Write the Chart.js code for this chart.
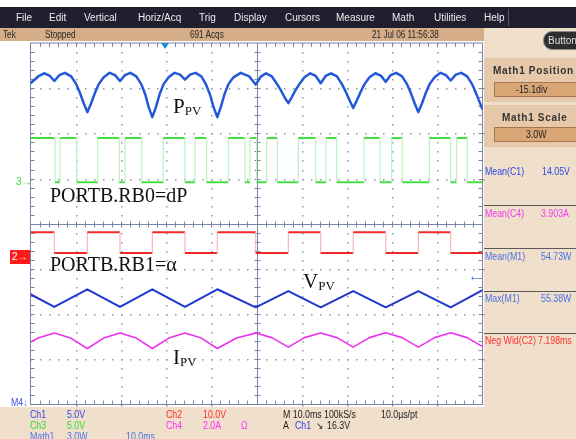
<!DOCTYPE html>
<html>
<head>
<meta charset="utf-8">
<script src="https://cdn.jsdelivr.net/npm/chart.js@4.4.0/dist/chart.umd.min.js"></script>
<style>
html, body { margin: 0; padding: 0; background: #fff; }
#scope { position: relative; width: 576px; height: 439px; overflow: hidden; background: #fff;
         font-family: "Liberation Sans", Arial, sans-serif; }
#scope div { position: absolute; white-space: nowrap; line-height: 1; }
#scope canvas { position: absolute; left: 0; top: 0; }
.t { font-size: 10px; }
.n { transform: scaleX(.88); transform-origin: 0 0; }
.menu-item { color: #ececec; top: 13px; }
.stat { color: #262626; top: 30px; transform: scaleX(.82); transform-origin: 0 0; }
.title { font-weight: bold; font-size: 10px; color: #333; letter-spacing: .7px; }
.btn { background: #d9a676; border: 1px solid #a87448; box-sizing: border-box; }
.sep { left: 484px; width: 92px; height: 1px; background: #5a5a5a; }
.ann { font-family: "Liberation Serif", "Times New Roman", serif; color: #111; }
.ann sub { font-size: 13px; vertical-align: -2px; line-height: 1; }
</style>
</head>
<body>
<div id="scope">
  <!-- backgrounds -->
  <div style="left:0;top:7px;width:576px;height:21px;background:#1f1f30"></div>
  <div style="left:0;top:28px;width:484px;height:13px;background:#d5ad88"></div>
  <div style="left:484px;top:28px;width:92px;height:411px;background:#efdfcb"></div>
  <div style="left:0;top:407px;width:484px;height:32px;background:#efdfcb"></div>
  <div style="left:484px;top:58px;width:92px;height:44px;background:#e5c9aa"></div>
  <div style="left:484px;top:105px;width:92px;height:42px;background:#e5c9aa"></div>

  <canvas id="scopeChart" width="576" height="439"></canvas>

  <!-- menu bar -->
  <div class="t menu-item" style="left:16px">File</div>
  <div class="t menu-item" style="left:49px">Edit</div>
  <div class="t menu-item" style="left:84px">Vertical</div>
  <div class="t menu-item" style="left:138px">Horiz/Acq</div>
  <div class="t menu-item" style="left:199px">Trig</div>
  <div class="t menu-item" style="left:234px">Display</div>
  <div class="t menu-item" style="left:285px">Cursors</div>
  <div class="t menu-item" style="left:336px">Measure</div>
  <div class="t menu-item" style="left:392px">Math</div>
  <div class="t menu-item" style="left:434px">Utilities</div>
  <div class="t menu-item" style="left:484px">Help</div>
  <div style="left:508px;top:9px;width:1px;height:17px;background:#55556a"></div>

  <!-- status bar -->
  <div class="t stat" style="left:3px">Tek</div>
  <div class="t stat" style="left:45px">Stopped</div>
  <div class="t stat" style="left:190px">691 Acqs</div>
  <div class="t stat" style="left:372px">21 Jul 06 11:56:38</div>
  <div style="left:543px;top:31px;width:44px;height:19px;border-radius:9px;background:#2e2e2e;border:1px solid #8a8a8a;box-sizing:border-box"></div>
  <div class="t" style="left:548px;top:36px;color:#dedede">Button</div>

  <!-- right panel -->
  <div class="title" style="left:493px;top:66px">Math1 Position</div>
  <div class="btn" style="left:494px;top:82px;width:84px;height:15px"></div>
  <div class="t n" style="left:516px;top:85px;color:#222">-15.1div</div>
  <div class="title" style="left:502px;top:113px">Math1 Scale</div>
  <div class="btn" style="left:494px;top:127px;width:84px;height:15px"></div>
  <div class="t n" style="left:526px;top:130px;color:#222">3.0W</div>

  <div class="t n" style="left:485px;top:167px;color:#2b47e6">Mean(C1)</div>
  <div class="t n" style="left:542px;top:167px;color:#2b47e6">14.05V</div>
  <div class="sep" style="top:205px"></div>
  <div class="t n" style="left:485px;top:209px;color:#f23cf2">Mean(C4)</div>
  <div class="t n" style="left:541px;top:209px;color:#f23cf2">3.903A</div>
  <div class="sep" style="top:248px"></div>
  <div class="t n" style="left:485px;top:252px;color:#4a72e6">Mean(M1)</div>
  <div class="t n" style="left:541px;top:252px;color:#4a72e6">54.73W</div>
  <div class="sep" style="top:291px"></div>
  <div class="t n" style="left:485px;top:294px;color:#4a72e6">Max(M1)</div>
  <div class="t n" style="left:541px;top:294px;color:#4a72e6">55.38W</div>
  <div class="sep" style="top:333px"></div>
  <div class="t n" style="left:485px;top:336px;color:#ff3030">Neg Wid(C2)</div>
  <div class="t n" style="left:538px;top:336px;color:#ff3030">7.198ms</div>

  <!-- bottom readout -->
  <div class="t n" style="left:30px;top:410px;color:#3344ee">Ch1</div>
  <div class="t n" style="left:67px;top:410px;color:#3344ee">5.0V</div>
  <div class="t n" style="left:166px;top:410px;color:#ff2a2a">Ch2</div>
  <div class="t n" style="left:203px;top:410px;color:#ff2a2a">10.0V</div>
  <div class="t n" style="left:283px;top:410px;color:#222">M 10.0ms 100kS/s</div>
  <div class="t n" style="left:381px;top:410px;color:#222">10.0µs/pt</div>
  <div class="t n" style="left:30px;top:421px;color:#33dd33">Ch3</div>
  <div class="t n" style="left:67px;top:421px;color:#33dd33">5.0V</div>
  <div class="t n" style="left:166px;top:421px;color:#ff30ff">Ch4</div>
  <div class="t n" style="left:203px;top:421px;color:#ff30ff">2.0A</div>
  <div class="t n" style="left:241px;top:421px;color:#ff30ff">Ω</div>
  <div class="t n" style="left:283px;top:421px;color:#222">A</div>
  <div class="t n" style="left:295px;top:421px;color:#3344ee">Ch1</div>
  <div class="t n" style="left:316px;top:421px;color:#222">↘</div>
  <div class="t n" style="left:327px;top:421px;color:#222">16.3V</div>
  <div class="t n" style="left:30px;top:432px;color:#4a72e6">Math1</div>
  <div class="t n" style="left:67px;top:432px;color:#4a72e6">3.0W</div>
  <div class="t n" style="left:126px;top:432px;color:#4a72e6">10.0ms</div>

  <!-- markers -->
  <div style="left:161px;top:43px;width:0;height:0;border-left:4px solid transparent;border-right:4px solid transparent;border-top:6px solid #1f8fe0"></div>
  <div class="t" style="left:16px;top:177px;color:#33dd33">3→</div>
  <div style="left:10px;top:250px;width:20px;height:14px;background:#ff1a1a"></div>
  <div class="t" style="left:12px;top:252px;color:#fff">2→</div>
  <div class="t n" style="left:11px;top:398px;color:#3a5ae6">M4↓</div>
  <div style="left:469px;top:270px;font-size:12px;color:#2040e0">←</div>

  <!-- trace labels -->
  <div class="ann" style="left:173px;top:96px;font-size:21px">P<sub>PV</sub></div>
  <div class="ann" style="left:50px;top:185px;font-size:20px">PORTB.RB0=dP</div>
  <div class="ann" style="left:50px;top:254px;font-size:20px">PORTB.RB1=α</div>
  <div class="ann" style="left:303px;top:271px;font-size:21px">V<sub>PV</sub></div>
  <div class="ann" style="left:173px;top:347px;font-size:21px">I<sub>PV</sub></div>
</div>

<script>
// time in ms (10 ms/div), values in screen divisions (-4..4)

// P_PV (Math1, blue)
var pvTime = [0, 1.7, 3.0, 4.2, 5.27, 6.4, 7.6, 9.0, 10.1, 11.0, 11.8, 12.57, 13.4, 14.2, 15.1, 16.2, 17.5, 18.7,
  19.8, 20.9, 22.1, 23.4, 24.5, 25.4, 26.15, 26.95, 27.75, 28.55, 29.45, 30.55, 31.9, 33.1,
  34.18, 35.3, 36.5, 37.8, 38.8, 39.7, 40.5, 41.33, 42.1, 42.9, 43.8, 44.9, 46.5, 48.4,
  49.82, 50.9, 52.1, 53.4, 54.5, 55.4, 56.2, 57.04, 57.85, 58.65, 59.55, 60.6, 61.9, 63.1,
  64.2, 65.3, 66.5, 67.8, 68.9, 69.8, 70.6, 71.4, 72.2, 73.0, 73.9, 75.0, 76.3, 77.5,
  78.6, 79.7, 80.9, 82.2, 83.3, 84.2, 85.0, 85.8, 86.6, 87.4, 88.3, 89.4, 90.7, 91.9,
  92.96, 94.1, 95.3, 96.6, 97.7, 98.6, 99.4, 100];
var pvPower = [3.11, 3.26, 3.33, 3.28, 3.16, 3.29, 3.34, 3.26, 3.09, 2.88, 2.66, 2.47, 2.66, 2.88, 3.09, 3.24, 3.34, 3.29,
  3.16, 3.29, 3.34, 3.26, 3.09, 2.86, 2.58, 2.36, 2.58, 2.86, 3.09, 3.24, 3.34, 3.30,
  3.19, 3.30, 3.34, 3.26, 3.09, 2.86, 2.58, 2.36, 2.58, 2.86, 3.09, 3.24, 3.34, 3.26,
  3.08, 3.25, 3.33, 3.26, 3.10, 2.95, 2.80, 2.67, 2.81, 2.96, 3.10, 3.24, 3.33, 3.27,
  3.11, 3.27, 3.33, 3.26, 3.09, 2.91, 2.73, 2.56, 2.73, 2.91, 3.09, 3.24, 3.33, 3.28,
  3.14, 3.29, 3.34, 3.26, 3.09, 2.88, 2.66, 2.47, 2.66, 2.88, 3.09, 3.24, 3.34, 3.29,
  3.17, 3.30, 3.34, 3.26, 3.09, 2.88, 2.68, 2.53];

// PORTB.RB0 (Ch3, green) - level changes
var rb0Time = [0, 5.42, 6.53, 10.22, 14.87, 19.65, 20.91, 24.6, 29.38, 34.18, 36.39, 38.98, 43.76, 47.46, 48.56,
  50.04, 52.26, 54.6, 59.25, 63.1, 65.38, 67.74, 73.78, 77.32, 79.91, 82.26, 88.23, 92.96, 94.29, 96.64];
var rb0Level = [1.9, 0.92, 1.9, 0.92, 1.9, 0.92, 1.9, 0.92, 1.9, 0.92, 1.9, 0.92, 1.9, 0.92, 1.9,
  0.92, 1.9, 0.92, 1.9, 0.92, 1.9, 0.92, 1.9, 0.92, 1.9, 0.92, 1.9, 0.92, 1.9, 0.92];

// PORTB.RB1 (Ch2, red) - level changes
var rb1Time = [0, 5.27, 12.57, 19.8, 26.95, 34.18, 41.33, 49.82, 57.04, 64.2, 71.4, 78.6, 85.8, 92.96];
var rb1Level = [-0.19, -0.65, -0.19, -0.65, -0.19, -0.65, -0.19, -0.65, -0.19, -0.65, -0.19, -0.65, -0.19, -0.65];

// V_PV (Ch1, blue)
var vTime = [0, 5.27, 12.57, 19.8, 26.95, 34.18, 41.33, 49.82, 57.04, 64.2, 71.4, 78.6, 85.8, 92.96, 100];
var vValue = [-1.56, -1.84, -1.45, -1.84, -1.45, -1.84, -1.45, -1.85, -1.49, -1.85, -1.49, -1.85, -1.49, -1.85, -1.47];

// I_PV (Ch4, magenta)
var iTime = [0, 1.7, 5.27, 8.9, 12.57, 16.2, 19.8, 23.4, 26.95, 30.6, 34.18, 37.8, 41.33, 45.6, 49.82,
  53.4, 57.04, 60.6, 64.2, 67.8, 71.4, 75.0, 78.6, 82.2, 85.8, 89.4, 92.96, 96.6, 100];
var iValue = [-2.62, -2.53, -2.42, -2.53, -2.76, -2.53, -2.42, -2.53, -2.76, -2.53, -2.42, -2.53, -2.76, -2.53, -2.42,
  -2.52, -2.73, -2.52, -2.42, -2.52, -2.73, -2.52, -2.41, -2.52, -2.73, -2.52, -2.41, -2.52, -2.72];

function toPoints(ts, vs) {
  return ts.map(function (t, i) { return { x: t, y: vs[i] }; });
}
// logic trace as an explicit staircase (each level held until the next change)
function staircase(ts, vs) {
  var out = [];
  ts.forEach(function (t, i) {
    var end = i + 1 < ts.length ? ts[i + 1] : 100;
    out.push({ x: t, y: vs[i] }, { x: end, y: vs[i] });
  });
  return out;
}
// fast edges are faint on the scope, flat parts bright
function edgeStyle(faint) {
  return {
    borderColor: function (c) { return c.p0.parsed.x === c.p1.parsed.x ? faint : undefined; },
    borderWidth: function (c) { return c.p0.parsed.x === c.p1.parsed.x ? 1.2 : undefined; }
  };
}

// scope graticule drawn from the chart scales
var graticule = {
  id: 'graticule',
  beforeDatasetsDraw: function (chart) {
    var ctx = chart.ctx, a = chart.chartArea, xs = chart.scales.x, ys = chart.scales.y;
    var i, j, px, py;
    ctx.save();
    ctx.fillStyle = '#8e96b2';
    for (i = 1; i < 10; i++) {
      if (i === 5) continue;
      px = Math.round(xs.getPixelForValue(i * 10));
      for (j = 0; j <= 40; j++) ctx.fillRect(px, Math.round(ys.getPixelForValue(-4 + j * 0.2)), 1.5, 1.5);
    }
    for (i = 1; i < 8; i++) {
      if (i === 4) continue;
      py = Math.round(ys.getPixelForValue(-4 + i));
      for (j = 0; j <= 50; j++) ctx.fillRect(Math.round(xs.getPixelForValue(j * 2)), py, 1.5, 1.5);
    }
    ctx.strokeStyle = '#7a84a6';
    ctx.lineWidth = 1;
    ctx.strokeRect(a.left, a.top, a.right - a.left, a.bottom - a.top);
    var cx = Math.round(xs.getPixelForValue(50)) + 0.5, cy = Math.round(ys.getPixelForValue(0)) + 0.5;
    ctx.beginPath();
    ctx.moveTo(a.left, cy); ctx.lineTo(a.right, cy);
    ctx.moveTo(cx, a.top); ctx.lineTo(cx, a.bottom);
    for (j = 1; j < 50; j++) {
      px = Math.round(xs.getPixelForValue(j * 2)) + 0.5;
      ctx.moveTo(px, a.top); ctx.lineTo(px, a.top + 4);
      ctx.moveTo(px, a.bottom); ctx.lineTo(px, a.bottom - 4);
      ctx.moveTo(px, cy - 3); ctx.lineTo(px, cy + 3);
    }
    for (j = 1; j < 40; j++) {
      py = Math.round(ys.getPixelForValue(-4 + j * 0.2)) + 0.5;
      ctx.moveTo(a.left, py); ctx.lineTo(a.left + 4, py);
      ctx.moveTo(a.right, py); ctx.lineTo(a.right - 4, py);
      ctx.moveTo(cx - 3, py); ctx.lineTo(cx + 3, py);
    }
    ctx.stroke();
    ctx.restore();
  }
};

var ctx = document.getElementById('scopeChart').getContext('2d');
var scopeChart = new Chart(ctx, {
  type: 'line',
  data: {
    datasets: [
      { label: 'P_PV', data: toPoints(pvTime, pvPower), borderColor: '#2358d8', borderWidth: 2.5 },
      { label: 'V_PV', data: toPoints(vTime, vValue), borderColor: '#2236d0', borderWidth: 2 },
      { label: 'I_PV', data: toPoints(iTime, iValue), borderColor: '#ec32ec', borderWidth: 1.6 },
      { label: 'PORTB.RB0', data: staircase(rb0Time, rb0Level), borderColor: '#44dd44', borderWidth: 2,
        segment: edgeStyle('#bdf0bd') },
      { label: 'PORTB.RB1', data: staircase(rb1Time, rb1Level), borderColor: '#f02a2a', borderWidth: 2,
        segment: edgeStyle('#f6b8b8') }
    ]
  },
  options: {
    responsive: false,
    animation: false,
    events: [],
    layout: { padding: { left: 30.5, top: 43, right: 93.5, bottom: 34.5 } },
    scales: {
      x: { type: 'linear', min: 0, max: 100, display: false },
      y: { type: 'linear', min: -4, max: 4, display: false }
    },
    elements: {
      point: { radius: 0 },
      line: { tension: 0, borderJoinStyle: 'round', fill: false }
    },
    plugins: { legend: { display: false }, tooltip: { enabled: false } }
  },
  plugins: [graticule]
});
</script>
</body>
</html>
